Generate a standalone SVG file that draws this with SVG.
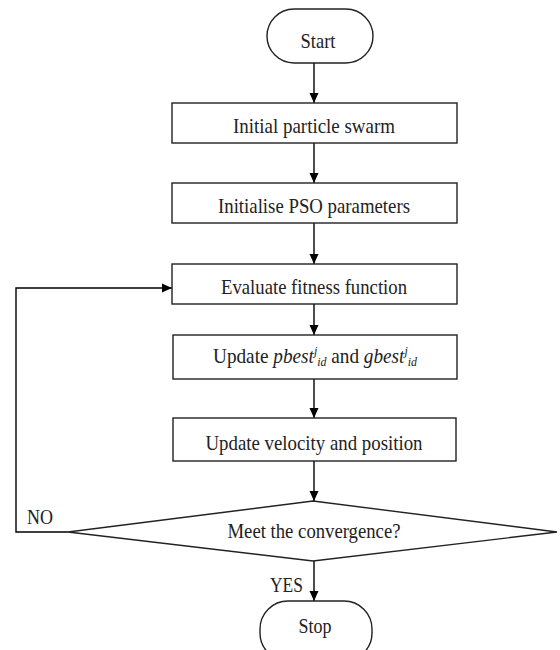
<svg xmlns="http://www.w3.org/2000/svg" width="560" height="650" viewBox="0 0 560 650" font-family="'Liberation Serif', 'Times New Roman', serif">
<defs>
<marker id="arr" viewBox="0 0 10 10" refX="10" refY="5" markerWidth="10" markerHeight="10" markerUnits="userSpaceOnUse" orient="auto">
<path d="M0,0.5 L10,5 L0,9.5 Z" fill="#000"/>
</marker>
<style>
.box{fill:#fff;stroke:#222;stroke-width:1.4}
.lbl{font-family:'Liberation Serif','Times New Roman',serif;font-size:21px;fill:#222;text-anchor:middle}
.side{font-family:'Liberation Serif','Times New Roman',serif;font-size:21px;fill:#222}
.con{fill:none;stroke:#000;stroke-width:1.4}
.it{font-style:italic}
</style>
</defs>
<rect width="560" height="650" fill="#fff"/>
<g id="connectors">
<line class="con" x1="314" y1="63" x2="314" y2="103" marker-end="url(#arr)"/>
<line class="con" x1="314" y1="143" x2="314" y2="183" marker-end="url(#arr)"/>
<line class="con" x1="314" y1="223" x2="314" y2="264" marker-end="url(#arr)"/>
<line class="con" x1="314" y1="304" x2="314" y2="335" marker-end="url(#arr)"/>
<line class="con" x1="314" y1="379" x2="314" y2="418" marker-end="url(#arr)"/>
<line class="con" x1="314" y1="461" x2="314" y2="501" marker-end="url(#arr)"/>
<line class="con" x1="314" y1="561" x2="314" y2="601" marker-end="url(#arr)"/>
<polyline class="con" points="68,532 16,532 16,288 172,288" marker-end="url(#arr)"/>
<text class="side" x="27" y="524" textLength="26" lengthAdjust="spacingAndGlyphs">NO</text>
<text class="side" x="270" y="592" textLength="33" lengthAdjust="spacingAndGlyphs">YES</text>
</g>
<g id="start">
<rect class="box" x="267" y="9" width="106" height="54" rx="27" ry="27"/>
<text class="lbl" x="318" y="48" textLength="35" lengthAdjust="spacingAndGlyphs">Start</text>
</g>
<g id="init-swarm">
<rect class="box" x="172" y="103" width="285" height="40"/>
<text class="lbl" x="314" y="133" textLength="162" lengthAdjust="spacingAndGlyphs">Initial particle swarm</text>
</g>
<g id="init-params">
<rect class="box" x="172" y="183" width="285" height="40"/>
<text class="lbl" x="314" y="213" textLength="192" lengthAdjust="spacingAndGlyphs">Initialise PSO parameters</text>
</g>
<g id="evaluate">
<rect class="box" x="172" y="264" width="285" height="40"/>
<text class="lbl" x="314" y="294" textLength="186" lengthAdjust="spacingAndGlyphs">Evaluate fitness function</text>
</g>
<g id="update-best">
<rect class="box" x="173" y="335" width="284" height="44"/>
<text class="side" x="0" y="363" transform="translate(213 0) scale(0.916 1)"><tspan>Update </tspan><tspan class="it">pbest</tspan><tspan class="it" font-size="13" dy="-8">j</tspan><tspan class="it" font-size="13" dy="11">id</tspan><tspan dy="-3"> and </tspan><tspan class="it">gbest</tspan><tspan class="it" font-size="13" dy="-8">j</tspan><tspan class="it" font-size="13" dy="11">id</tspan></text>
</g>
<g id="update-vel">
<rect class="box" x="173" y="418" width="283" height="43"/>
<text class="lbl" x="314" y="450" textLength="217" lengthAdjust="spacingAndGlyphs">Update velocity and position</text>
</g>
<g id="convergence">
<polygon class="box" points="313,501 557,532 313,561 68,532"/>
<text class="lbl" x="314" y="538" textLength="173" lengthAdjust="spacingAndGlyphs">Meet the convergence?</text>
</g>
<g id="stop">
<rect class="box" x="260" y="601" width="112" height="60" rx="28" ry="28"/>
<text class="lbl" x="315" y="633" textLength="33" lengthAdjust="spacingAndGlyphs">Stop</text>
</g>
</svg>
